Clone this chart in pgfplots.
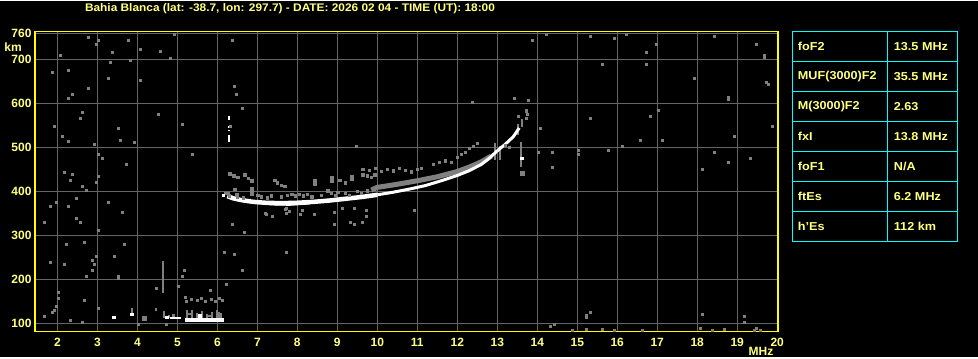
\documentclass[border=0pt]{standalone}
\usepackage{fontspec}
\setmainfont{Liberation Sans}
\usepackage{pgfplots}
\pgfplotsset{compat=1.18}
\definecolor{tyel}{RGB}{255,255,128}
\definecolor{fyel}{RGB}{255,255,0}
\definecolor{tcyan}{RGB}{0,255,255}
\definecolor{gr}{RGB}{128,128,128}
\definecolor{gridc}{RGB}{100,100,100}
\begin{document}
\begin{tikzpicture}[x=1pt,y=1pt]
\fill[black] (0,0) rectangle (978,356);
\begin{axis}[
  at={(35pt,26pt)}, anchor=south west, scale only axis,
  width=743pt, height=300pt,
  xmin=1.44, xmax=20.02, ymin=82.5, ymax=764.3,
  xtick={2,3,...,20}, ytick={100,200,300,400,500,600,700,760},
  grid=major, grid style={gridc, line width=0.9pt},
  major tick length=0pt,
  axis line style={fyel, line width=1.6pt},
  ticklabel style={font=\bfseries\fontsize{12}{13}\selectfont, text=tyel},
  /pgf/number format/assume math mode=true,
  xticklabel style={yshift=-3pt},
  unbounded coords=jump,
]
% ---- noise dots (gray)
\addplot[only marks, mark=square*, mark size=1pt, mark options={gr, line width=0pt}] table {
f h
2.79 751
2.09 710
3.02 744
2.99 735
3.39 717
3.79 744
4.09 723
4.59 719
4.94 758
4.84 703
3.84 698
3.34 694
1.89 671
2.29 676
3.29 657
4.09 653
2.79 635
2.39 621
2.29 612
6.39 744
6.44 639
6.49 621
6.64 589
2.64 580
2.59 566
4.54 576
1.94 548
3.54 544
2.14 526
2.29 514
3.59 517
3.94 512
2.94 508
5.14 553
3.04 485
3.14 476
3.74 462
5.39 485
9.49 503
6.34 548
14.24 758
13.89 744
15.34 753
15.94 748
16.24 757
16.99 735
16.74 717
16.74 689
15.64 689
18.44 753
19.49 735
19.69 710
19.69 705
17.94 657
19.74 648
19.79 644
18.79 614
18.79 609
17.04 585
16.84 571
15.34 566
14.09 544
16.59 517
17.14 517
16.14 503
15.79 494
18.94 526
19.89 548
18.44 490
19.34 476
18.79 467
18.14 451
15.04 494
15.04 485
14.39 490
14.04 490
14.39 455
13.44 612
13.79 607
12.39 603
13.74 585
13.54 571
13.74 566
2.19 444
2.39 439
3.02 435
2.34 426
2.64 412
2.74 403
2.99 421
1.84 367
1.99 376
2.29 367
2.49 385
3.29 376
3.64 353
2.49 339
2.59 330
1.69 330
3.02 312
6.39 326
6.69 308
7.74 262
6.19 262
6.44 257
6.64 221
2.24 280
2.69 285
3.69 280
3.44 253
2.99 253
2.89 244
1.84 239
2.94 235
2.19 235
2.89 221
2.74 207
3.54 207
3.54 203
5.19 221
5.14 207
5.04 185
4.49 180
6.24 189
5.84 176
2.04 171
2.04 158
1.99 139
1.94 130
1.89 126
1.69 117
2.69 153
3.04 135
2.34 108
2.64 103
4.02 99
4.74 99
14.34 94
14.44 98
14.89 85
15.24 88
15.24 118
15.24 114
15.34 126
15.64 88
15.94 85
16.64 85
18.14 121
18.09 89
18.39 85
18.69 88
19.19 117
19.19 103
19.44 85
19.49 89
19.59 85
7.74 362
8.09 348
7.39 344
7.24 348
7.74 350
8.94 353
8.94 326
9.34 330
9.44 326
9.64 330
9.74 344
9.74 358
10.94 358
9.14 362
8.14 358
7.2 350
7.7 360
7.8 356
8.44 348
9.44 362
};
% ---- gray scatter near F trace (low frequencies)
\addplot[only marks, mark=square*, mark size=1.2pt, mark options={gr, line width=0pt}] table {
f h
6.2 396
6.27 396
6.44 405
6.49 394
6.87 407
6.87 400
6.87 394
7.02 392
7.1 388
7.44 426
7.5 420
7.6 414
7.69 412
7.87 394
7.95 390
8.05 394
8.15 390
8.25 394
8.37 388
8.44 426
8.44 418
8.77 402
8.85 396
8.95 392
9.02 398
8.87 432
8.87 424
9.07 426
9.2 420
9.37 434
9.37 428
9.64 438
9.75 436
9.85 432
9.94 438
6.32 440
6.42 436
6.52 432
6.69 438
6.78 430
6.87 424
6.3 390
6.5 388
6.65 386
7.25 386
7.35 390
7.6 388
7.75 392
8.6 392
9.2 396
9.3 392
9.5 400
9.6 396
9.75 402
};
% ---- gray X trace band
\addplot[gr, line width=5pt, line join=round] coordinates {
(9.85,404)(10.0,410)(10.5,417)(11.0,425)(11.5,434)(12.0,446)(12.3,456)(12.6,468)(12.85,481)
};
% ---- upper faint gray trace
\addplot[only marks, mark=square*, mark size=1.1pt, mark options={gr, line width=0pt}] table {
f h
9.64 450
9.8 448
9.95 452
10.1 446
10.25 450
10.4 447
10.55 452
10.7 448
10.85 445
11.0 450
11.1 452
11.4 462
11.55 466
11.7 470
11.85 466
12.0 478
12.1 485
12.2 490
12.3 498
12.4 503
12.5 509
13.2 505
13.3 500
13.74 582
13.76 576
};
\addplot[gr, line width=1.8pt] coordinates {
(12.94,473)(12.94,510)(nan,nan)(13.07,473)(13.07,503)(nan,nan)(13.52,530)(13.52,553)(nan,nan)(13.62,548)(13.62,566)(nan,nan)(13.59,457)(13.59,514)(nan,nan)(4.64,170)(4.64,242)
};
\addplot[only marks, mark=square*, mark size=2pt, mark options={gr, line width=0pt}] coordinates {(13.62,441)(4.18,113)};
% ---- white O trace
\addplot[white, line width=4.5pt, line join=round] coordinates {
(6.25,390)(6.4,385)(6.6,381)(6.9,377)(7.2,375)(7.6,374)(8.0,375)(8.4,377)(8.8,380)(9.2,384)(9.6,388)(10.0,393)
};
\addplot[white, line width=3.5pt, line join=round] coordinates {
(7.3,373)(7.8,372)(8.3,375)
};
\addplot[white, line width=3pt, line join=round] coordinates {
(10.0,393)(10.4,399)(10.8,406)(11.2,414)(11.6,425)(12.0,437)(12.3,448)(12.6,462)(12.8,476)(13.0,493)(13.2,508)(13.4,525)(13.55,545)
};
\addplot[only marks, mark=square*, mark size=1.2pt, mark options={white, line width=0pt}] coordinates {(13.62,476)(6.15,392)(3.42,114)(3.87,121)};
% ---- white vertical dashes near 6.3 MHz
\addplot[white, line width=1.6pt] coordinates {
(6.29,573)(6.29,563)(nan,nan)(6.29,549)(6.29,545)(nan,nan)(6.29,541)(6.29,537)(nan,nan)(6.29,529)(6.29,514)
};
% ---- E region
\addplot[gr, line width=2pt] coordinates {
(5.24,114)(5.24,131)(nan,nan)(5.24,122)(5.36,122)(nan,nan)(5.36,114)(5.36,131)(nan,nan)
(5.5,114)(5.5,124)(nan,nan)(5.62,114)(5.62,128)(nan,nan)(5.74,114)(5.74,122)(nan,nan)
(5.74,118)(5.86,118)(nan,nan)(5.86,114)(5.86,126)(nan,nan)(5.98,114)(5.98,131)(nan,nan)
(6.04,114)(6.04,126)(nan,nan)(6.1,114)(6.1,124)(nan,nan)(3.87,124)(3.87,135)(nan,nan)
(4.47,128)(4.47,135)(nan,nan)(4.66,113)(4.66,128)(nan,nan)(4.78,113)(4.78,120)
};
\addplot[only marks, mark=square*, mark size=1pt, mark options={gr, line width=0pt}] table {
f h
5.2 160
5.24 150
5.35 155
5.5 152
5.6 158
5.7 150
5.85 154
5.95 150
6.05 158
6.12 152
4.9 118
};
\addplot[white, line width=4pt] coordinates {(5.2,109)(6.17,109)};
\addplot[white, line width=3pt] coordinates {(4.7,115)(4.8,115)};
\addplot[white, line width=2pt] coordinates {(4.82,113)(5.1,113)};
\addplot[white, line width=4pt] coordinates {(5.57,112)(5.57,122)};
\end{axis}
% ---- labels
\node[text=tyel, font=\bfseries\fontsize{12}{13}\selectfont] at (13,310) {km};
\node[text=tyel, font=\bfseries\fontsize{12}{13}\selectfont] at (761,6) {MHz};
\node[text=tyel, font=\bfseries\fontsize{11}{12}\selectfont, xscale=1.08] at (290,349) {Bahia Blanca (lat: -38.7, lon: 297.7) - DATE: 2026 02 04 - TIME (UT): 18:00};
% ---- table
\draw[tcyan, line width=1pt] (792,116) rectangle (957,326);
\foreach \yy in {146,176,206,236,266,296} {\draw[tcyan, line width=1pt] (792,\yy) -- (957,\yy);}
\draw[tcyan, line width=1pt] (887,116) -- (887,326);
\begin{scope}[every node/.style={text=tyel, font=\bfseries\fontsize{11.5}{13}\selectfont, anchor=west, xscale=1.1}]
\node at (794,311) {foF2};        \node at (890,311) {13.5 MHz};
\node at (794,281) {MUF(3000)F2}; \node at (890,281) {35.5 MHz};
\node at (794,251) {M(3000)F2};   \node at (890,251) {2.63};
\node at (794,221) {fxI};         \node at (890,221) {13.8 MHz};
\node at (794,191) {foF1};        \node at (890,191) {N/A};
\node at (794,161) {ftEs};        \node at (890,161) {6.2 MHz};
\node at (794,131) {h'Es};        \node at (890,131) {112 km};
\end{scope}
\end{tikzpicture}
\end{document}
